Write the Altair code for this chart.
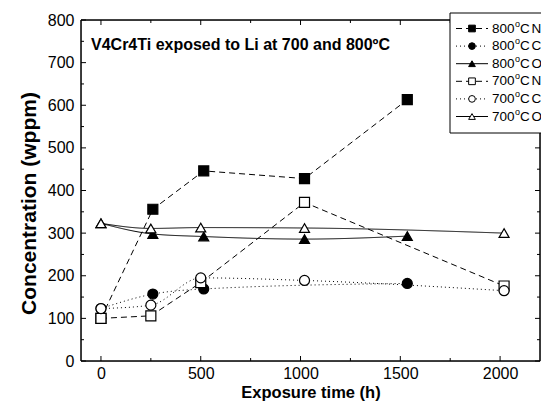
import altair as alt
import pandas as pd

# ---- data ----
series_names = ["800N", "800C", "800O", "700N", "700C", "700O"]
x_800 = [0, 260, 515, 1020, 1535]
n_800 = [100, 356, 446, 428, 613]
x_800c = [0, 260, 515, 1535]
c_800 = [123, 157, 169, 182]
o_800 = [323, 298, 292, 286, 293]
x_700 = [0, 250, 500, 1020, 2020]
n_700 = [100, 106, 184, 372, 176]
c_700 = [123, 131, 195, 189, 165]
o_700 = [323, 311, 313, 312, 300]

legend_temp = ["800", "800", "800", "700", "700", "700"]
legend_elem = ["N", "C", "O", "N", "C", "O"]
title_text = "V4Cr4Ti exposed to Li at 700 and 800ºC"

x_major = [0, 500, 1000, 1500, 2000]
x_minor = [250, 750, 1250, 1750]
y_major = [0, 100, 200, 300, 400, 500, 600, 700, 800]
y_minor = [50, 150, 250, 350, 450, 550, 650, 750]

rows = []
def add(name, xs, ys, kind):
    for xv, yv in zip(xs, ys):
        rows.append({"series": name, "t": xv, "c": yv, "kind": kind})

add("800N", x_800, n_800, "N")
add("800C", x_800c, c_800, "C")
add("800O", x_800, o_800, "O")
add("700N", x_700, n_700, "N")
add("700C", x_700, c_700, "C")
add("700O", x_700, o_700, "O")
df = pd.DataFrame(rows)

FONT = "Liberation Sans"
W, H = 459, 341

xscale = alt.Scale(domain=[-100, 2200], nice=False, zero=False)
yscale = alt.Scale(domain=[0, 800], nice=False)
xaxis = alt.Axis(values=x_major, format="d", ticks=False, domain=False, grid=False,
                 labelFontSize=16, labelPadding=4, labelColor="black",
                 labelFont=FONT, title="Exposure time (h)", titleFont=FONT,
                 titleFontSize=16.5, titleFontWeight="bold", titleColor="black",
                 titlePadding=3)
yaxis = alt.Axis(values=y_major, format="d", ticks=False, domain=False, grid=False,
                 labelFontSize=16, labelPadding=7, labelColor="black",
                 labelFont=FONT, title="Concentration (wppm)", titleFont=FONT,
                 titleFontSize=21, titleFontWeight="bold", titleColor="black",
                 titlePadding=8, titleY=183)

def X(f):
    return alt.X(f, scale=xscale, axis=xaxis)

def Y(f):
    return alt.Y(f, scale=yscale, axis=yaxis)

dash_scale = alt.Scale(domain=series_names,
                       range=[[6, 4], [1, 3], [1, 0], [6, 4], [1, 3], [1, 0]])
shape_scale = alt.Scale(domain=series_names,
                        range=["square", "circle", "triangle-up",
                               "square", "circle", "triangle-up"])
fill_scale = alt.Scale(domain=series_names,
                       range=["black", "black", "black", "white", "white", "white"])

base = alt.Chart(df)

lines_n = base.transform_filter(alt.datum.kind == "N").mark_line(
    color="black", strokeWidth=1).encode(
    x=X("t:Q"), y=Y("c:Q"), detail="series:N",
    strokeDash=alt.StrokeDash("series:N", scale=dash_scale, legend=None))

lines_co = base.transform_filter(alt.datum.kind != "N").mark_line(
    color="black", strokeWidth=1, interpolate="monotone").encode(
    x=X("t:Q"), y=Y("c:Q"), detail="series:N",
    strokeDash=alt.StrokeDash("series:N", scale=dash_scale, legend=None))

points = base.mark_point(filled=True, stroke="black", strokeWidth=1.2,
                         opacity=1, size=100).encode(
    x=X("t:Q"), y=Y("c:Q"),
    shape=alt.Shape("series:N", scale=shape_scale, legend=None),
    fill=alt.Fill("series:N", scale=fill_scale, legend=None))

# ticks (inward)
def tick_df(vals):
    return pd.DataFrame({"v": vals})

def xticks(vals, length):
    bottom = alt.Chart(tick_df(vals)).mark_rule(color="black", strokeWidth=1).encode(
        x=X("v:Q"), y=alt.value(H), y2=alt.value(H - length))
    top = alt.Chart(tick_df(vals)).mark_rule(color="black", strokeWidth=1).encode(
        x=X("v:Q"), y=alt.value(0), y2=alt.value(length))
    return [bottom, top]

def yticks(vals, length):
    left = alt.Chart(tick_df(vals)).mark_rule(color="black", strokeWidth=1).encode(
        y=Y("v:Q"), x=alt.value(0), x2=alt.value(length))
    right = alt.Chart(tick_df(vals)).mark_rule(color="black", strokeWidth=1).encode(
        y=Y("v:Q"), x=alt.value(W), x2=alt.value(W - length))
    return [left, right]

one = pd.DataFrame({"k": [0]})
frame = [
    alt.Chart(one).mark_rule(color="black", strokeWidth=1.5).encode(
        x=alt.value(0), x2=alt.value(W), y=alt.value(H)),
    alt.Chart(one).mark_rule(color="black", strokeWidth=1.5).encode(
        x=alt.value(0), x2=alt.value(W), y=alt.value(0)),
    alt.Chart(one).mark_rule(color="black", strokeWidth=1.5).encode(
        x=alt.value(0), y=alt.value(0), y2=alt.value(H)),
    alt.Chart(one).mark_rule(color="black", strokeWidth=1.5).encode(
        x=alt.value(W), y=alt.value(0), y2=alt.value(H)),
]

title = alt.Chart(pd.DataFrame({"txt": [title_text]})).mark_text(
    font=FONT, fontSize=16, fontWeight="bold", align="left",
    baseline="alphabetic", color="black").encode(
    text="txt:N", x=alt.value(10), y=alt.value(30))

main = alt.layer(
    *frame,
    *xticks(x_major, 5), *xticks(x_minor, 3),
    *yticks(y_major, 5), *yticks(y_minor, 3),
    lines_n, lines_co, points, title)

# ---- legend ----
leg_df = pd.DataFrame({"series": series_names, "idx": list(range(6)),
                       "temp": legend_temp, "elem": legend_elem})
ly = alt.Y("idx:Q", scale=alt.Scale(domain=[0, 5], range=[8.5, 96.5]), axis=None)
leg_box = alt.Chart(one).mark_rect(fill="white", stroke="black", strokeWidth=1).encode(
    x=alt.value(369), x2=alt.value(500), y=alt.value(-7), y2=alt.value(113))
leg_lines = alt.Chart(leg_df).mark_rule(color="black", strokeWidth=1).encode(
    x=alt.value(375), x2=alt.value(407), y=ly,
    strokeDash=alt.StrokeDash("series:N", scale=dash_scale, legend=None))
leg_pts = alt.Chart(leg_df).mark_point(filled=True, stroke="black", strokeWidth=1,
                                       opacity=1, size=45).encode(
    x=alt.value(391), y=ly,
    shape=alt.Shape("series:N", scale=shape_scale, legend=None),
    fill=alt.Fill("series:N", scale=fill_scale, legend=None))
leg_t1 = alt.Chart(leg_df).mark_text(font=FONT, fontSize=13.5, align="left",
                                     baseline="middle", color="black").encode(
    text="temp:N", x=alt.value(411), y=ly)
leg_t2 = alt.Chart(leg_df).mark_text(font=FONT, fontSize=9, align="left",
                                     baseline="middle", color="black", dy=-5).encode(
    text=alt.value("o"), x=alt.value(434), y=ly)
leg_t3 = alt.Chart(leg_df).mark_text(font=FONT, fontSize=13.5, align="left",
                                     baseline="middle", color="black").encode(
    text=alt.value("C"), x=alt.value(439), y=ly)
leg_t4 = alt.Chart(leg_df).mark_text(font=FONT, fontSize=13.5, align="left",
                                     baseline="middle", color="black").encode(
    text="elem:N", x=alt.value(450.5), y=ly)
legend = alt.layer(leg_box, leg_lines, leg_pts, leg_t1, leg_t2, leg_t3, leg_t4)

chart = alt.layer(main, legend).resolve_scale(
    y="independent", strokeDash="shared", shape="shared", fill="shared"
).properties(
    width=W, height=H,
    padding={"left": 73, "top": 12, "right": 1, "bottom": 40},
    autosize=alt.AutoSizeParams(type="none"),
    background="white",
).configure_view(stroke="transparent").configure(font=FONT)

chart.save("out.html", embed_options={"renderer": "svg", "actions": False})
